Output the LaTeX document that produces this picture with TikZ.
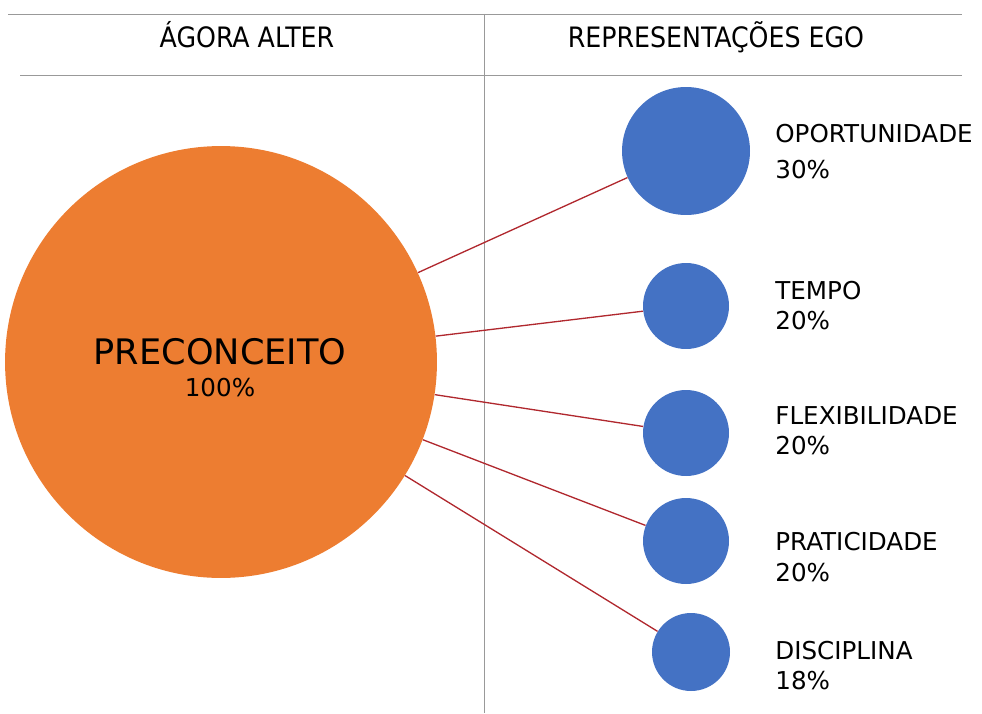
\documentclass[tikz,border=0pt]{standalone}
\usepackage{fontspec}
\setmainfont{DejaVu Sans}
\newfontfamily\condfont{DejaVu Sans Condensed}
\usepackage{tikz}
\usetikzlibrary{positioning}

\definecolor{alterorange}{HTML}{ED7D31}
\definecolor{egoblue}{HTML}{4472C4}
\definecolor{linkred}{HTML}{B0282E}

\begin{document}
\begin{tikzpicture}[x=0.02cm, y=-0.02cm,
    bigdot/.style={circle, fill=alterorange, inner sep=0pt, minimum size=8.64cm},
    egodot/.style={circle, fill=egoblue, inner sep=0pt},
    lbl/.style={anchor=base west, inner sep=0pt, font=\fontsize{14}{16}\selectfont},
    hd/.style={anchor=base, inner sep=0pt, font=\condfont\fontsize{16}{18}\selectfont},
    link/.style={linkred, line width=0.75pt}]
    \useasboundingbox (0,0) rectangle (982,713);

    % Table rules
    \draw[gray!80, line width=0.5pt] (8,14) -- (962,14);
    \draw[gray!80, line width=0.5pt] (20,75) -- (962,75);
    \draw[gray!80, line width=0.5pt] (484,14) -- (484,713);

    % Headings
    \node[hd] (alter) at (247,48) {ÁGORA ALTER};
    \node[hd] (ego) at (716,48) {REPRESENTAÇÕES EGO};

    % Alter circle
    \node[bigdot] (pre) at (221,362) {};
    \node[anchor=base, inner sep=0pt, font=\fontsize{20}{22}\selectfont] (pretxt) at (220,364) {PRECONCEITO};
    \node[anchor=base, inner sep=0pt, font=\fontsize{14}{16}\selectfont] (prepct) at (220,396) {100\%};

    % Ego circles
    \node[egodot, minimum size=2.56cm] (oport) at (686,151) {};
    \node[egodot, minimum size=1.72cm] (tempo) at (686,306) {};
    \node[egodot, minimum size=1.72cm] (flex) at (686,433) {};
    \node[egodot, minimum size=1.72cm] (prat) at (686,541) {};
    \node[egodot, minimum size=1.56cm] (disc) at (691,652) {};

    % Links
    \draw[link] (pre) -- (oport);
    \draw[link] (pre) -- (tempo);
    \draw[link] (pre) -- (flex);
    \draw[link] (pre) -- (prat);
    \draw[link] (pre) -- (disc);

    % Labels
    \node[lbl] (oportl) at (775,142) {OPORTUNIDADE};
    \node[lbl] (oportp) at (775,178) {30\%};
    \node[lbl] (tempol) at (775,299) {TEMPO};
    \node[lbl] (tempop) at (775,329) {20\%};
    \node[lbl] (flexl) at (775,424) {FLEXIBILIDADE};
    \node[lbl] (flexp) at (775,454) {20\%};
    \node[lbl] (pratl) at (775,550) {PRATICIDADE};
    \node[lbl] (pratp) at (775,581) {20\%};
    \node[lbl] (discl) at (775,659) {DISCIPLINA};
    \node[lbl] (discp) at (775,689) {18\%};
\end{tikzpicture}
\end{document}
